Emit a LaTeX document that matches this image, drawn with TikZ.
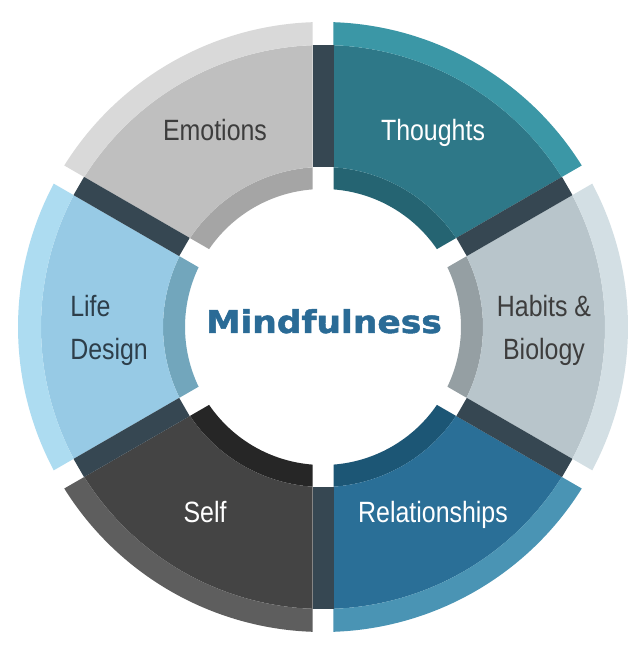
\documentclass[tikz,border=0pt]{standalone}
\usepackage{fontspec}
\newfontfamily\labelfont[FakeStretch=0.85]{Liberation Sans}
\newfontfamily\titlefont[FakeStretch=1.1,FakeBold=1.6]{DejaVu Sans Bold}
\definecolor{sepc}{HTML}{364752}
\definecolor{emoO}{HTML}{D9D9D9}\definecolor{emoM}{HTML}{BFBFBF}\definecolor{emoI}{HTML}{A5A5A5}
\definecolor{thoO}{HTML}{3B97A6}\definecolor{thoM}{HTML}{2E7888}\definecolor{thoI}{HTML}{256472}
\definecolor{habO}{HTML}{D3DFE4}\definecolor{habM}{HTML}{B8C5CB}\definecolor{habI}{HTML}{959FA3}
\definecolor{relO}{HTML}{4A94B4}\definecolor{relM}{HTML}{2A6F97}\definecolor{relI}{HTML}{1C5675}
\definecolor{selO}{HTML}{5E5E5E}\definecolor{selM}{HTML}{444444}\definecolor{selI}{HTML}{262626}
\definecolor{lifO}{HTML}{ADDCF1}\definecolor{lifM}{HTML}{97CAE5}\definecolor{lifI}{HTML}{72A6BC}
\definecolor{darktxt}{HTML}{3D3D3D}
\definecolor{lifetxt}{HTML}{2D3E4A}
\definecolor{titlec}{HTML}{2A6B96}
\newcommand\ringseg[5]{%
  \pgfmathsetmacro\aO{#1+asin(10.5/#4)}%
  \pgfmathsetmacro\bO{#2-asin(10.5/#4)}%
  \pgfmathsetmacro\aI{#1+asin(10.5/#3)}%
  \pgfmathsetmacro\bI{#2-asin(10.5/#3)}%
  \fill[#5] (\aO:#4) arc[start angle=\aO, end angle=\bO, radius=#4]
    -- (\bI:#3) arc[start angle=\bI, end angle=\aI, radius=#3] -- cycle;}
\newcommand\fullseg[3]{% a b colorprefix
  \ringseg{#1}{#2}{138}{160}{#3I}%
  \ringseg{#1}{#2}{160}{282}{#3M}%
  \ringseg{#1}{#2}{282}{305}{#3O}}
\tikzset{
  lbl/.style={font=\labelfont\fontsize{22pt}{26pt}\selectfont, anchor=base, inner sep=0pt},
  sepbar/.style={fill=sepc}
}
\begin{document}
\begin{tikzpicture}[x=0.75pt,y=0.75pt]
\useasboundingbox[fill=white] (0,0) rectangle (640,653);
\begin{scope}[shift={(323,326)}]
  \fullseg{30}{90}{tho}
  \fullseg{90}{150}{emo}
  \fullseg{150}{210}{lif}
  \fullseg{210}{270}{sel}
  \fullseg{-90}{-30}{rel}
  \fullseg{-30}{30}{hab}
  \foreach \t in {30,90,150,210,270,330}{
    \fill[sepbar, rotate=\t] (160,-10.5) rectangle (282,10.5);
  }
\end{scope}
\node[lbl, text=darktxt] (emotions) at (215,512) {Emotions};
\node[lbl, text=white] (thoughts) at (433,512) {Thoughts};
\node[lbl, text=darktxt] (habits) at (544,336) {Habits \&};
\node[lbl, text=darktxt] (biology) at (544,293) {Biology};
\node[lbl, text=lifetxt, anchor=base west] (life) at (70,336) {Life};
\node[lbl, text=lifetxt, anchor=base west] (design) at (70,293) {Design};
\node[lbl, text=white] (self) at (205,130) {Self};
\node[lbl, text=white] (relationships) at (433,130) {Relationships};
\node[anchor=base, inner sep=0pt, text=titlec, font=\titlefont\fontsize{23.5pt}{28pt}\selectfont] (mind) at (324,320) {Mindfulness};
\end{tikzpicture}
\end{document}
